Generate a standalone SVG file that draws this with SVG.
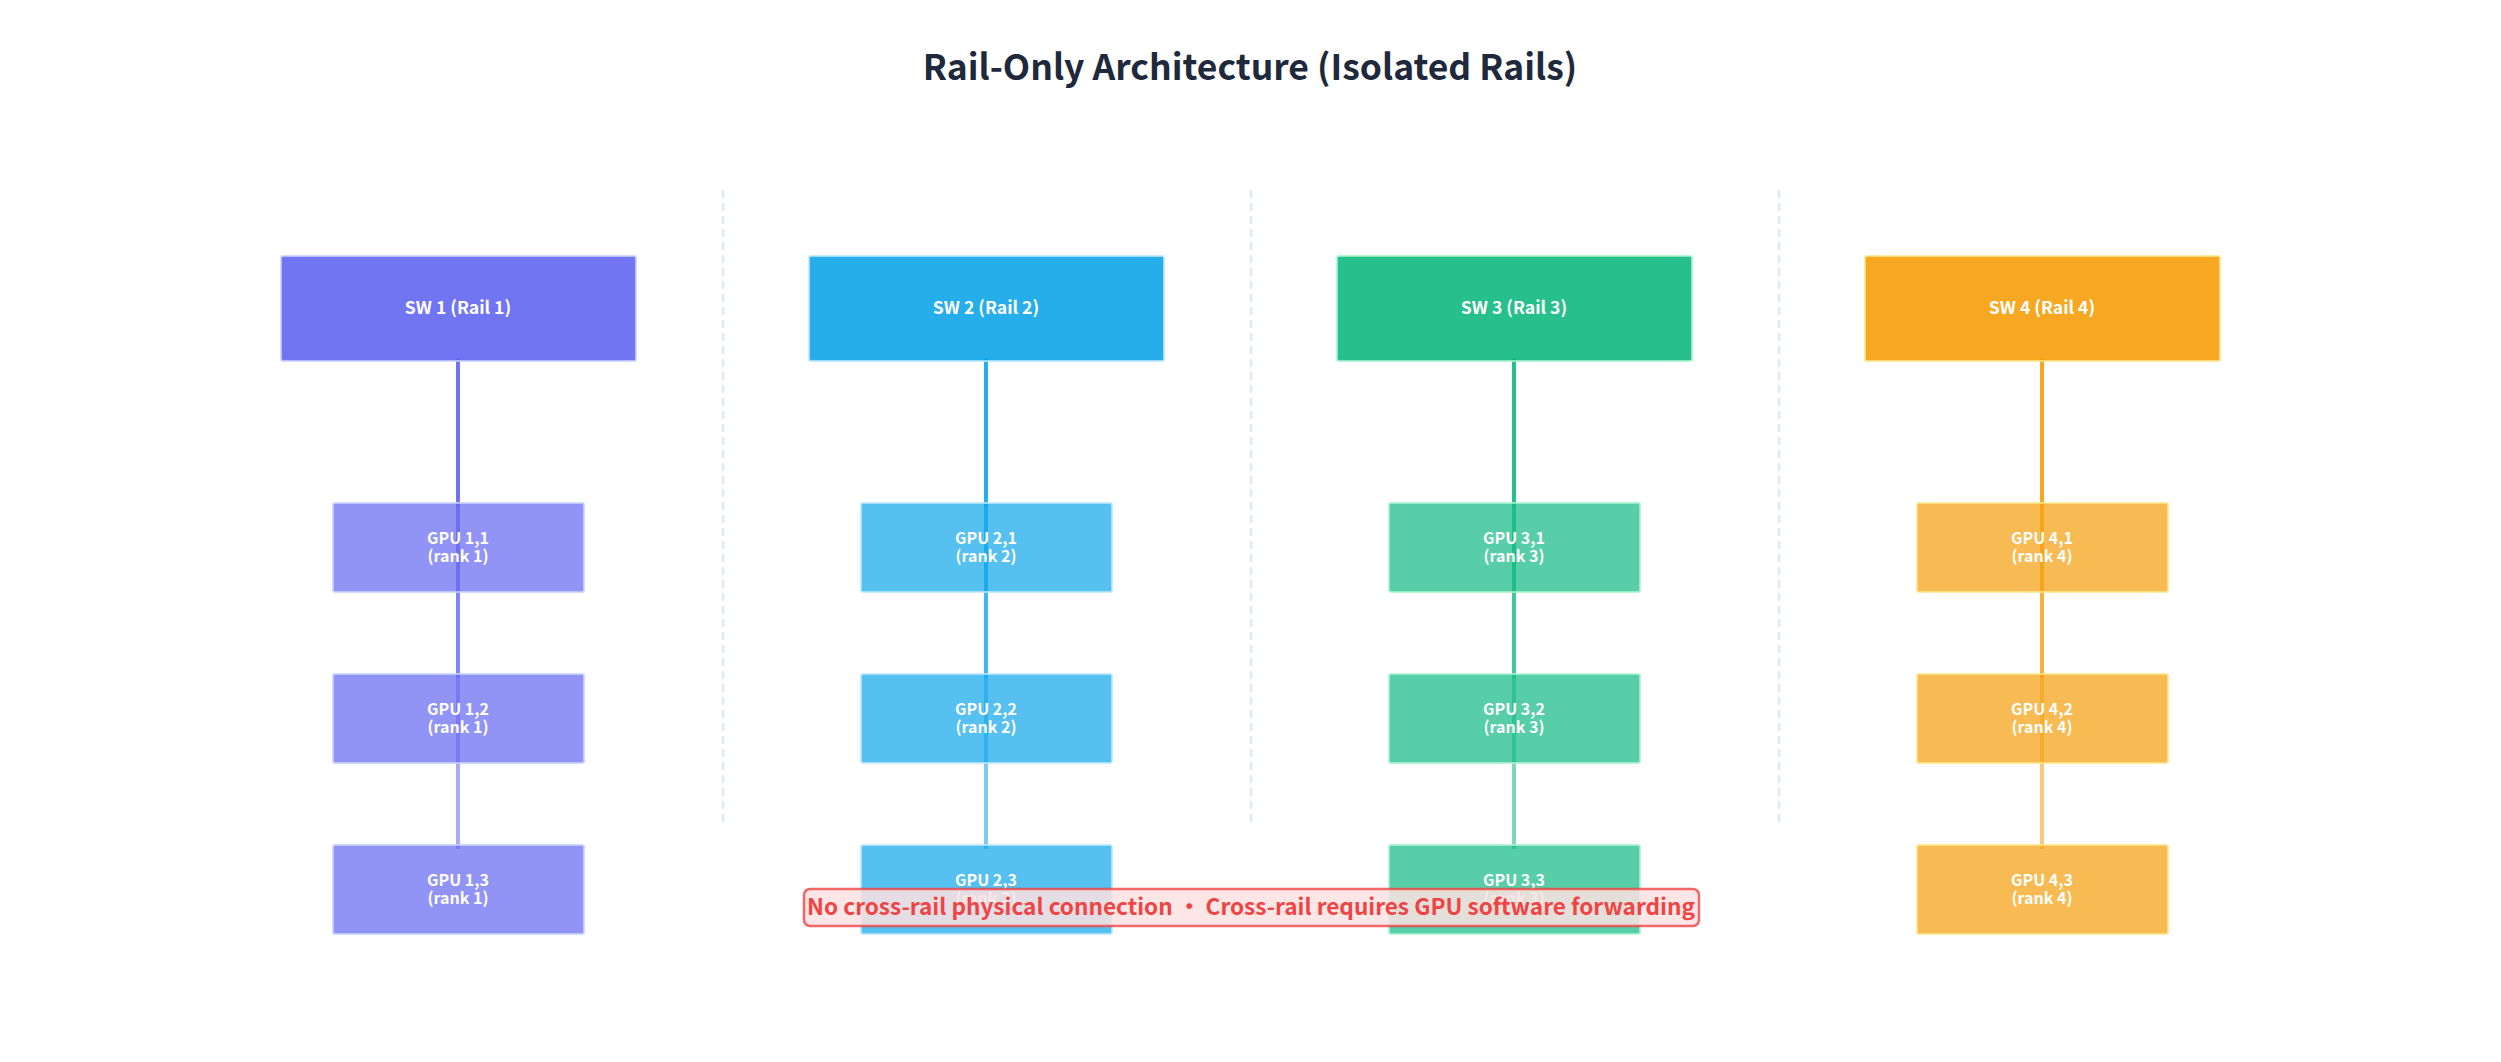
<svg xmlns="http://www.w3.org/2000/svg" width="2501" height="1062" viewBox="0 0 2501 1062">
<style>
  text { font-family: "Noto Sans CJK SC", "Noto Sans", "Liberation Sans", sans-serif; font-weight: 700; }
  .title { font-size: 35.5px; fill: #1e293b; text-anchor: middle; }
  .sw-t { font-size: 17.6px; fill: #ffffff; text-anchor: middle; }
  .gpu-t { font-size: 16px; fill: #ffffff; text-anchor: middle; }
  .sep { stroke: #e2e8f0; stroke-width: 2.5; stroke-dasharray: 8 5; fill: none; }
  .sw { stroke-width: 2; rx: 2; }
  .gpu { stroke-width: 2; rx: 2; }
  .r1 .sw { fill: #6366f1; fill-opacity: 0.9; stroke: #c7d2fe; stroke-opacity: 0.8; }
  .r1 .gpu { fill: #6366f1; fill-opacity: 0.7; stroke: #c7d2fe; stroke-opacity: 0.8; }
  .r2 .sw { fill: #0ea5e9; fill-opacity: 0.9; stroke: #bae6fd; stroke-opacity: 0.8; }
  .r2 .gpu { fill: #0ea5e9; fill-opacity: 0.7; stroke: #bae6fd; stroke-opacity: 0.8; }
  .r3 .sw { fill: #10b981; fill-opacity: 0.9; stroke: #a7f3d0; stroke-opacity: 0.8; }
  .r3 .gpu { fill: #10b981; fill-opacity: 0.7; stroke: #a7f3d0; stroke-opacity: 0.8; }
  .r4 .sw { fill: #f59e0b; fill-opacity: 0.9; stroke: #fde68a; stroke-opacity: 0.8; }
  .r4 .gpu { fill: #f59e0b; fill-opacity: 0.7; stroke: #fde68a; stroke-opacity: 0.8; }
  .link { stroke-width: 4; stroke-opacity: 0.55; fill: none; }
  .l1 { stroke: #6366f1; }
  .l2 { stroke: #0ea5e9; }
  .l3 { stroke: #10b981; }
  .l4 { stroke: #f59e0b; }
  .note-box { fill: #fee2e2; fill-opacity: 0.85; stroke: #ef4444; stroke-opacity: 0.8; stroke-width: 2.5; }
  .note-t { font-size: 22.6px; fill: #ef4444; text-anchor: middle; }
</style>
<rect width="2501" height="1062" fill="#ffffff"/>
<text class="title" x="1250" y="80">Rail-Only Architecture (Isolated Rails)</text>

<g id="separators">
  <line class="sep" x1="723" y1="190" x2="723" y2="822"/>
  <line class="sep" x1="1251" y1="190" x2="1251" y2="822"/>
  <line class="sep" x1="1779" y1="190" x2="1779" y2="822"/>
</g>

<g id="connectors">
  <line class="link l1" x1="458" y1="358" x2="458" y2="507"/>
  <line class="link l1" x1="458" y1="358" x2="458" y2="678"/>
  <line class="link l1" x1="458" y1="358" x2="458" y2="849"/>
  <line class="link l2" x1="986" y1="358" x2="986" y2="507"/>
  <line class="link l2" x1="986" y1="358" x2="986" y2="678"/>
  <line class="link l2" x1="986" y1="358" x2="986" y2="849"/>
  <line class="link l3" x1="1514" y1="358" x2="1514" y2="507"/>
  <line class="link l3" x1="1514" y1="358" x2="1514" y2="678"/>
  <line class="link l3" x1="1514" y1="358" x2="1514" y2="849"/>
  <line class="link l4" x1="2042" y1="358" x2="2042" y2="507"/>
  <line class="link l4" x1="2042" y1="358" x2="2042" y2="678"/>
  <line class="link l4" x1="2042" y1="358" x2="2042" y2="849"/>
</g>

<g class="r1">
  <g id="sw1"><rect class="sw" x="281" y="256" width="355" height="105"/><text class="sw-t" x="458" y="314">SW 1 (Rail 1)</text></g>
  <g id="gpu1-1"><rect class="gpu" x="333" y="503" width="251" height="89"/><text class="gpu-t" x="458" y="544">GPU 1,1</text><text class="gpu-t" x="458" y="562">(rank 1)</text></g>
  <g id="gpu1-2"><rect class="gpu" x="333" y="674" width="251" height="89"/><text class="gpu-t" x="458" y="715">GPU 1,2</text><text class="gpu-t" x="458" y="733">(rank 1)</text></g>
  <g id="gpu1-3"><rect class="gpu" x="333" y="845" width="251" height="89"/><text class="gpu-t" x="458" y="886">GPU 1,3</text><text class="gpu-t" x="458" y="904">(rank 1)</text></g>
</g>
<g class="r2">
  <g id="sw2"><rect class="sw" x="809" y="256" width="355" height="105"/><text class="sw-t" x="986" y="314">SW 2 (Rail 2)</text></g>
  <g id="gpu2-1"><rect class="gpu" x="861" y="503" width="251" height="89"/><text class="gpu-t" x="986" y="544">GPU 2,1</text><text class="gpu-t" x="986" y="562">(rank 2)</text></g>
  <g id="gpu2-2"><rect class="gpu" x="861" y="674" width="251" height="89"/><text class="gpu-t" x="986" y="715">GPU 2,2</text><text class="gpu-t" x="986" y="733">(rank 2)</text></g>
  <g id="gpu2-3"><rect class="gpu" x="861" y="845" width="251" height="89"/><text class="gpu-t" x="986" y="886">GPU 2,3</text><text class="gpu-t" x="986" y="904">(rank 2)</text></g>
</g>
<g class="r3">
  <g id="sw3"><rect class="sw" x="1337" y="256" width="355" height="105"/><text class="sw-t" x="1514" y="314">SW 3 (Rail 3)</text></g>
  <g id="gpu3-1"><rect class="gpu" x="1389" y="503" width="251" height="89"/><text class="gpu-t" x="1514" y="544">GPU 3,1</text><text class="gpu-t" x="1514" y="562">(rank 3)</text></g>
  <g id="gpu3-2"><rect class="gpu" x="1389" y="674" width="251" height="89"/><text class="gpu-t" x="1514" y="715">GPU 3,2</text><text class="gpu-t" x="1514" y="733">(rank 3)</text></g>
  <g id="gpu3-3"><rect class="gpu" x="1389" y="845" width="251" height="89"/><text class="gpu-t" x="1514" y="886">GPU 3,3</text><text class="gpu-t" x="1514" y="904">(rank 3)</text></g>
</g>
<g class="r4">
  <g id="sw4"><rect class="sw" x="1865" y="256" width="355" height="105"/><text class="sw-t" x="2042" y="314">SW 4 (Rail 4)</text></g>
  <g id="gpu4-1"><rect class="gpu" x="1917" y="503" width="251" height="89"/><text class="gpu-t" x="2042" y="544">GPU 4,1</text><text class="gpu-t" x="2042" y="562">(rank 4)</text></g>
  <g id="gpu4-2"><rect class="gpu" x="1917" y="674" width="251" height="89"/><text class="gpu-t" x="2042" y="715">GPU 4,2</text><text class="gpu-t" x="2042" y="733">(rank 4)</text></g>
  <g id="gpu4-3"><rect class="gpu" x="1917" y="845" width="251" height="89"/><text class="gpu-t" x="2042" y="886">GPU 4,3</text><text class="gpu-t" x="2042" y="904">(rank 4)</text></g>
</g>

<g id="note">
  <rect class="note-box" x="804" y="889" width="895" height="37" rx="6"/>
  <text class="note-t" x="1251" y="915">No cross-rail physical connection · Cross-rail requires GPU software forwarding</text>
</g>
</svg>
